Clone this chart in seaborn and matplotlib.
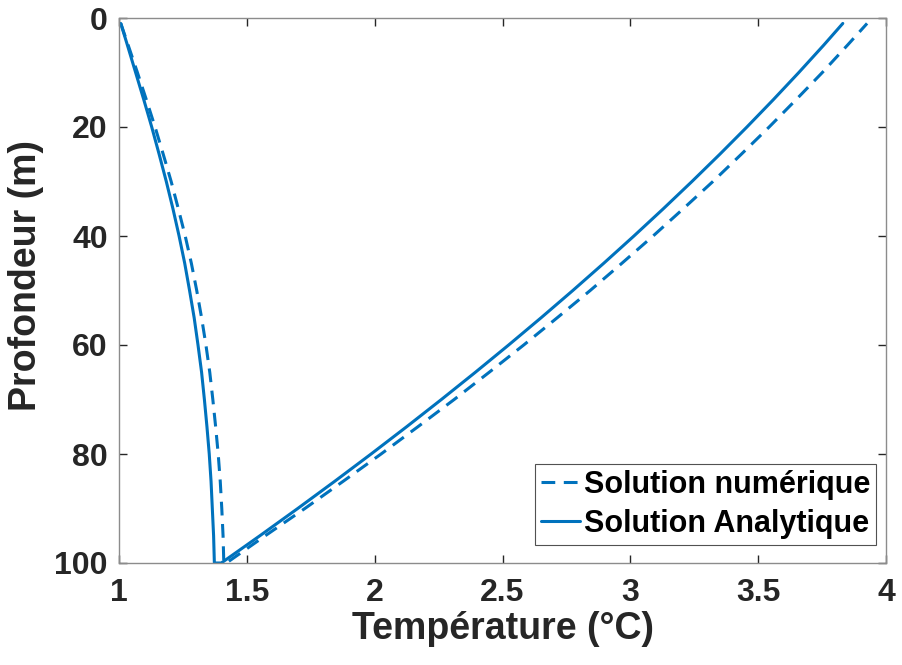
import numpy as np
import pandas as pd
import matplotlib
matplotlib.use("Agg")
import matplotlib.pyplot as plt
import seaborn as sns

# Depth grid (m)
profondeur = [1, 5, 10, 15, 20, 25, 30, 35, 40, 45, 50,
              55, 60, 65, 70, 75, 80, 85, 90, 95, 100]

# Upper branch, from the surface down to 100 m (°C)
analytique_descente = [1.007, 1.033, 1.065, 1.097, 1.128, 1.157, 1.185, 1.211, 1.235, 1.257, 1.276,
                       1.294, 1.309, 1.323, 1.334, 1.344, 1.353, 1.360, 1.365, 1.370, 1.373]
numerique_descente = [1.007, 1.036, 1.072, 1.107, 1.141, 1.173, 1.204, 1.232, 1.259, 1.283, 1.304,
                      1.323, 1.340, 1.355, 1.367, 1.378, 1.388, 1.396, 1.402, 1.407, 1.410]

# Return branch, listed on the same depth grid (°C)
analytique_remontee = [3.831, 3.756, 3.659, 3.559, 3.456, 3.350, 3.241, 3.129, 3.014, 2.896, 2.775,
                       2.651, 2.524, 2.394, 2.261, 2.125, 1.986, 1.844, 1.699, 1.551, 1.400]
numerique_remontee = [3.926, 3.849, 3.751, 3.648, 3.543, 3.434, 3.323, 3.207, 3.089, 2.967, 2.843,
                      2.714, 2.583, 2.448, 2.311, 2.169, 2.025, 1.877, 1.727, 1.572, 1.420]

series = ["Solution numérique", "Solution Analytique"]
x_ticks = [1, 1.5, 2, 2.5, 3, 3.5, 4]
x_tick_labels = ["1", "1.5", "2", "2.5", "3", "3.5", "4"]
y_ticks = [0, 20, 40, 60, 80, 100]


def profil(nom, descente, remontee):
    depth = list(profondeur) + list(reversed(profondeur))
    temp = list(descente) + list(reversed(remontee))
    return pd.DataFrame({"Solution": nom, "Profondeur": depth, "Temperature": temp})


df = pd.concat([
    profil(series[0], numerique_descente, numerique_remontee),
    profil(series[1], analytique_descente, analytique_remontee),
], ignore_index=True)

sns.set_theme(style="ticks")
plt.rcParams["font.family"] = ["Liberation Sans", "DejaVu Sans"]
plt.rcParams["font.weight"] = "bold"

fig = plt.figure(figsize=(9.02, 6.65), dpi=100)
ax = fig.add_axes([119 / 902, 1 - 563 / 665, (886 - 119) / 902, (563 - 18) / 665])

bleu = "#0072BD"
sns.lineplot(data=df, x="Temperature", y="Profondeur", hue="Solution", style="Solution",
             hue_order=series, style_order=series,
             palette={series[0]: bleu, series[1]: bleu},
             dashes={series[0]: (4.5, 2.8), series[1]: ""},
             sort=False, estimator=None, units="Solution", linewidth=2.2, ax=ax)

ax.set_xlim(1, 4)
ax.set_ylim(100, 0)
ax.set_xticks(x_ticks)
ax.set_xticklabels(x_tick_labels)
ax.set_yticks(y_ticks)

ax.set_xlabel("Température (°C)", fontsize=27, fontweight="bold", color="#262626", labelpad=2)
ax.set_ylabel("Profondeur (m)", fontsize=27, fontweight="bold", color="#262626")
ax.yaxis.set_label_coords(-0.098, 0.527)

for side in ["top", "right", "bottom", "left"]:
    ax.spines[side].set_visible(True)
    ax.spines[side].set_color("#8c8c8c")
    ax.spines[side].set_linewidth(1.0)

ax.tick_params(axis="both", which="major", direction="in", length=6, width=1.0,
               color="#262626", labelsize=23, labelcolor="#262626",
               top=True, right=True)
ax.tick_params(axis="x", pad=11)
ax.tick_params(axis="y", pad=8)
for lab in ax.get_xticklabels() + ax.get_yticklabels():
    lab.set_fontweight("bold")

leg = ax.legend(loc="lower right", frameon=True, fancybox=False, fontsize=22,
                handlelength=1.3, handletextpad=0.1, borderpad=0.2,
                labelspacing=0.3, borderaxespad=0.0, bbox_to_anchor=(0.987, 0.033))
leg.get_frame().set_edgecolor("#262626")
leg.get_frame().set_linewidth(0.8)
for t in leg.get_texts():
    t.set_fontweight("bold")
    t.set_color("black")

fig.savefig("out.png", dpi=100)
